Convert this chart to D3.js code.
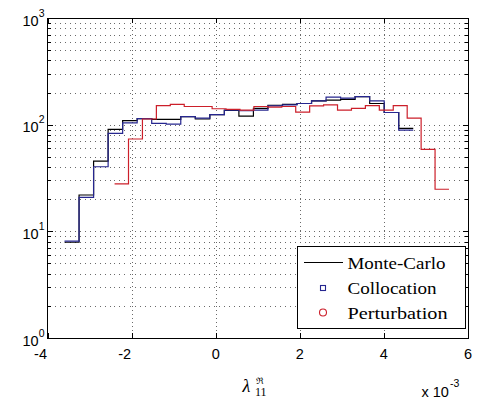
<!DOCTYPE html>
<html>
<head>
<meta charset="utf-8">
<script src="https://cdn.jsdelivr.net/npm/d3@7"></script>
<style>
  html, body { margin: 0; padding: 0; background: #fff; }
  svg { display: block; }
</style>
</head>
<body>
<svg id="chart" width="481" height="402"></svg>
<script>
// ---- data ----
const xTicks = [-4, -2, 0, 2, 4, 6];
const yTicks = [1, 10, 100, 1000];
const yTickExponents = ["0", "1", "2", "3"];
const seriesNames = ["Monte-Carlo", "Collocation", "Perturbation"];

// histogram range (x 10^-3) and bin counts
const mcRange = [-3.595, 4.698];
const pertRange = [-2.405, 5.548];

const monteCarlo = [7.9, 21.9, 45.6, 90.5, 109, 114, 112, 112, 119, 113, 124, 136,
                    120, 142, 152, 155, 158, 167, 170, 173, 183, 158, 130, 92.5];
const collocation = [8.1, 20.8, 40.3, 83, 104, 114, 103, 101, 119, 115, 124, 137,
                     135, 137, 150, 153, 158, 167, 181, 177, 183, 167, 130, 89];
const perturbation = [27.8, 73.4, 113, 151, 155, 148, 148, 141, 139, 137, 148, 146,
                      148, 131, 150, 153, 137, 142, 151, 137, 151, 115, 58.7, 24.8];

// ---- layout ----
const L = 47.5, R = 468, T = 18, B = 338;
const svg = d3.select("#chart");
const x = d3.scaleLinear().domain([-4, 6]).range([L, R]);
const y = d3.scaleLog().domain([1, 1000]).range([B, T]);

const colors = { mc: "#000000", col: "#26268f", pert: "#cc1f2a" };

// ---- grid ----
const grid = svg.append("g").attr("stroke", "#6a6a6a").attr("stroke-width", 1)
  .attr("shape-rendering", "crispEdges");
const minorY = [];
[1, 10, 100].forEach(d => { for (let k = 1; k <= 9; k++) minorY.push(d * k); });
minorY.filter(v => v > 1 && v < 1000).forEach(v => {
  grid.append("line").attr("x1", L + 2).attr("x2", R)
    .attr("stroke-dasharray", "1,4")
    .attr("y1", Math.round(y(v)) + 0.5).attr("y2", Math.round(y(v)) + 0.5);
});
xTicks.filter(v => v > -4 && v < 6).forEach(v => {
  grid.append("line").attr("y1", T).attr("y2", B)
    .attr("stroke-dasharray", "1,3")
    .attr("x1", Math.round(x(v)) + 0.5).attr("x2", Math.round(x(v)) + 0.5);
});

// ---- stairs ----
function stairs(values, range, color, width) {
  const n = values.length;
  const step = (range[1] - range[0]) / n;
  const pts = values.map((v, i) => [range[0] + i * step, v]);
  pts.push([range[1], values[n - 1]]);
  const line = d3.line().x(d => x(d[0])).y(d => y(d[1])).curve(d3.curveStepAfter);
  svg.append("path").attr("d", line(pts)).attr("fill", "none")
    .attr("stroke", color).attr("stroke-width", width);
}
stairs(monteCarlo, mcRange, colors.mc, 1.2);
stairs(collocation, mcRange, colors.col, 1.2);
stairs(perturbation, pertRange, colors.pert, 1.2);

// ---- axes box and ticks ----
const ax = svg.append("g").attr("stroke", "#000").attr("stroke-width", 1)
  .attr("shape-rendering", "crispEdges").attr("fill", "none");
ax.append("rect").attr("x", L).attr("y", T).attr("width", R - L).attr("height", B - T);
xTicks.forEach(v => {
  const px = Math.round(x(v)) + 0.5;
  ax.append("line").attr("x1", px).attr("x2", px).attr("y1", B).attr("y2", B - 5);
  ax.append("line").attr("x1", px).attr("x2", px).attr("y1", T).attr("y2", T + 5);
});
minorY.concat([1000]).forEach(v => {
  const py = Math.round(y(v)) + 0.5;
  const len = yTicks.includes(v) ? 5 : 3;
  ax.append("line").attr("x1", L).attr("x2", L + len).attr("y1", py).attr("y2", py);
  ax.append("line").attr("x1", R).attr("x2", R - len).attr("y1", py).attr("y2", py);
});

// ---- tick labels ----
const tickFont = "'Liberation Sans', Arial, Helvetica, sans-serif";
xTicks.forEach(v => {
  const t = svg.append("text").attr("y", B + 21)
    .attr("font-family", tickFont).attr("font-size", 14.5).attr("fill", "#000")
    .text(v < 0 ? "-" + Math.abs(v) : String(v));
  if (v < 0) t.attr("x", x(v) - 0.5).attr("text-anchor", "end");
  else t.attr("x", x(v)).attr("text-anchor", "middle");
});
yTicks.forEach((v, i) => {
  const py = y(v);
  const g = svg.append("text").attr("font-family", tickFont).attr("fill", "#000")
    .attr("x", 22.5).attr("y", py + 7.5).attr("font-size", 14.5);
  g.append("tspan").text("10");
  g.append("tspan").attr("font-size", 10.5).attr("dy", -9).text(yTickExponents[i]);
});

// ---- axis label ----
const serif = "'Liberation Serif', 'DejaVu Serif', serif";
svg.append("text").attr("x", 242.5).attr("y", 391.5).attr("font-family", serif)
  .attr("font-style", "italic").attr("font-size", 18).text("λ");
svg.append("text").attr("x", 255).attr("y", 396).attr("font-family", serif)
  .attr("font-size", 12).text("11");
svg.append("text").attr("x", 255.5).attr("y", 383.5).attr("font-family", "'DejaVu Serif', serif")
  .attr("font-size", 9).text("ℜ");

const ex = svg.append("text").attr("x", 421.5).attr("y", 396.5)
  .attr("font-family", tickFont).attr("font-size", 14.5).attr("fill", "#000");
ex.append("tspan").text("x 10");
ex.append("tspan").attr("font-size", 10.5).attr("dy", -10).attr("dx", 1).text("-3");

// ---- legend ----
const lg = svg.append("g");
lg.append("rect").attr("x", 297.5).attr("y", 246.5).attr("width", 168).attr("height", 82)
  .attr("fill", "#fff").attr("stroke", "#000").attr("stroke-width", 1)
  .attr("shape-rendering", "crispEdges");
const rowsY = [268.5, 294, 318.5];
const textW = [98, 89, 100];
seriesNames.forEach((name, i) => {
  lg.append("text").attr("x", 347.5).attr("y", rowsY[i]).attr("font-family", serif)
    .attr("font-size", 17.5).attr("textLength", textW[i]).attr("lengthAdjust", "spacingAndGlyphs")
    .attr("fill", "#000").text(name);
});
lg.append("line").attr("x1", 304).attr("x2", 343).attr("y1", 262.5).attr("y2", 262.5)
  .attr("stroke", colors.mc).attr("stroke-width", 1.2);
lg.append("rect").attr("x", 320.5).attr("y", 285.5).attr("width", 5).attr("height", 5)
  .attr("fill", "none").attr("stroke", colors.col).attr("stroke-width", 1.1);
lg.append("circle").attr("cx", 323).attr("cy", 312.5).attr("r", 3.5)
  .attr("fill", "none").attr("stroke", colors.pert).attr("stroke-width", 1.1);
</script>
</body>
</html>
